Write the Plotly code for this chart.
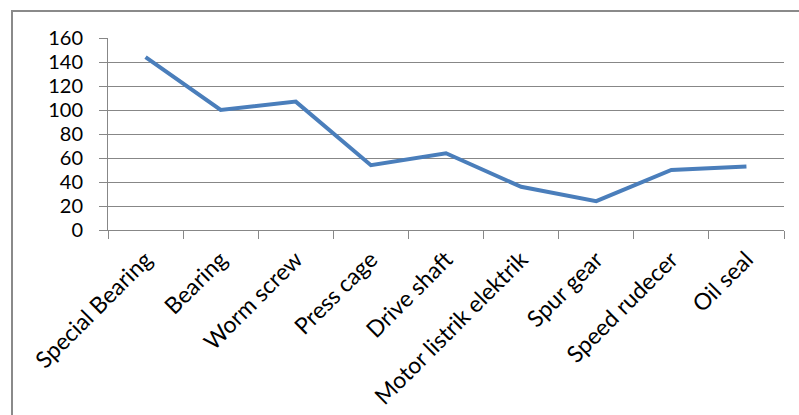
import plotly.graph_objects as go

categories = ["Special Bearing", "Bearing", "Worm screw", "Press cage", "Drive shaft",
              "Motor listrik elektrik", "Spur gear", "Speed rudecer", "Oil seal"]
values = [144, 100, 107, 54, 64, 36, 24, 50, 53]
y_ticks = [0, 20, 40, 60, 80, 100, 120, 140, 160]

FONT = "Lato"
GRID = "#878787"

fig = go.Figure()
fig.add_trace(go.Scatter(
    x=categories, y=values, mode="lines",
    line=dict(color="#4A7EBB", width=4),
    hoverinfo="x+y", showlegend=False,
))

L, R, T, B = 108, 15, 38, 185
W, H = 799, 415
pw, ph = W - L - R, H - T - B

fig.update_layout(
    width=W, height=H,
    margin=dict(l=L, r=R, t=T, b=B, pad=0),
    paper_bgcolor="white", plot_bgcolor="white",
    font=dict(family=FONT, size=20, color="#000000"),
    xaxis=dict(
        type="category", tickangle=-45, tickson="boundaries",
        ticks="outside", ticklen=8, tickcolor=GRID, tickwidth=1,
        showline=True, linecolor=GRID, linewidth=1,
        showgrid=False, range=[-0.5, len(categories) - 0.5],
        tickfont=dict(family=FONT, size=23), ticklabelstandoff=6,
        automargin=False, fixedrange=True,
    ),
    yaxis=dict(
        range=[0, 160], tickvals=y_ticks, ticktext=[str(v) for v in y_ticks],
        ticks="outside", ticklen=8, tickcolor=GRID, tickwidth=1,
        showline=True, linecolor=GRID, linewidth=1,
        showgrid=True, gridcolor=GRID, gridwidth=1,
        zeroline=False, ticklabelstandoff=12,
        tickfont=dict(family=FONT, size=20),
        automargin=False, fixedrange=True,
    ),
    shapes=[dict(
        type="rect", xref="paper", yref="paper",
        x0=(12 - L) / pw, x1=1.5, y0=-2, y1=1 + (T - 11) / ph,
        line=dict(color="#8A8A8A", width=2), fillcolor="rgba(0,0,0,0)", layer="below",
    )],
)

fig.write_html("out.html")
